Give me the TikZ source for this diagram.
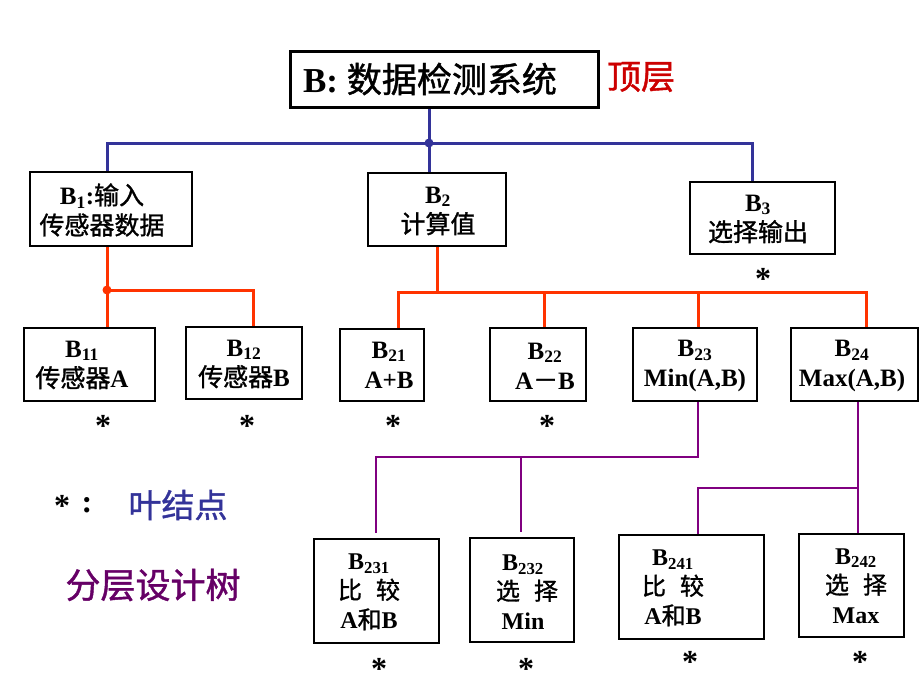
\documentclass[tikz,border=0pt]{standalone}
\usepackage{fontspec}
\setmainfont{Liberation Serif}
\newfontfamily\cjk[FakeBold=1.2]{Noto Sans CJK SC}
\newcommand\zhtxt[1]{{\cjk #1}}
\newcommand\bsub[2]{\textbf{#1\textsubscript{#2}}}
\definecolor{lineblue}{HTML}{333399}
\definecolor{linered}{HTML}{FF3300}
\definecolor{linepurple}{HTML}{800080}
\definecolor{topred}{HTML}{CC0000}
\definecolor{legpurple}{HTML}{660066}
\begin{document}
\begin{tikzpicture}[x=1pt,y=-1pt,
  box/.style={draw=black, line width=2pt, inner sep=0pt},
  txt/.style={font=\fontsize{25}{30}\selectfont, align=center, inner sep=0pt},
  txtc/.style={font=\fontsize{24}{29.5}\selectfont, align=center, inner sep=0pt},
  leafstar/.style={font=\fontsize{32}{32}\selectfont\bfseries, inner sep=0pt, yshift=-4pt},
  bl/.style={draw=lineblue, line width=3pt},
  rd/.style={draw=linered, line width=3pt},
  pu/.style={draw=linepurple, line width=2pt}]
\useasboundingbox (0,0) rectangle (920,690);

% ---------- boxes ----------
\node[box, line width=3pt, minimum width=308pt, minimum height=56pt] (B) at (444,80) {};
\node[box, minimum width=162pt, minimum height=74pt] (B1) at (111,209) {};
\node[box, minimum width=138pt, minimum height=73pt] (B2) at (437,209.5) {};
\node[box, minimum width=145pt, minimum height=72pt] (B3) at (762.5,218) {};
\node[box, minimum width=131pt, minimum height=73pt] (B11) at (89.5,364.5) {};
\node[box, minimum width=116pt, minimum height=72pt] (B12) at (244,363) {};
\node[box, minimum width=84pt, minimum height=72pt] (B21) at (382,365) {};
\node[box, minimum width=96pt, minimum height=73pt] (B22) at (538,364.5) {};
\node[box, minimum width=124pt, minimum height=73pt] (B23) at (695,364.5) {};
\node[box, minimum width=127pt, minimum height=73pt] (B24) at (854.5,364.5) {};
\node[box, minimum width=125pt, minimum height=104pt] (B231) at (376.5,591) {};
\node[box, minimum width=104pt, minimum height=104pt] (B232) at (522,590) {};
\node[box, minimum width=145pt, minimum height=104pt] (B241) at (691.5,587) {};
\node[box, minimum width=105pt, minimum height=103pt] (B242) at (851.5,585.5) {};

% ---------- texts ----------
\node[inner sep=0pt, font=\fontsize{35}{40}\selectfont] (tB) at (430,79) {\textbf{B:} \zhtxt{数据检测系统}};
\node[inner sep=0pt, font=\fontsize{34}{40}\selectfont, text=topred] (top) at (641,77) {\zhtxt{顶层}};
\node[txt] (tB1) at (102,210) {\bsub{B}{1}\textbf{:}\zhtxt{输入}\\\zhtxt{传感器数据}};
\node[txt] (tB2) at (438,211) {\bsub{B}{2}\\\zhtxt{计算值}};
\node[txt] (tB3) at (758,219) {\bsub{B}{3}\\\zhtxt{选择输出}};
\node[txt] (tB11) at (82,365) {\bsub{B}{11}\\\zhtxt{传感器}\textbf{A}};
\node[txt] (tB12) at (244,364) {\bsub{B}{12}\\\zhtxt{传感器}\textbf{B}};
\node[txt] (tB21) at (389,365) {\bsub{B}{21}\\\textbf{A+B}};
\node[txt] (tB22) at (545,366) {\bsub{B}{22}\\\textbf{A}\zhtxt{－}\textbf{B}};
\node[txt] (tB23) at (695,366) {\bsub{B}{23}\\\textbf{Min(A,B)}};
\node[txt] (tB24) at (852,366) {\bsub{B}{24}\\\textbf{Max(A,B)}};
\node[txtc] (tB231) at (369,592) {\bsub{B}{231}\\\zhtxt{比}\hspace{14pt}\zhtxt{较}\\\textbf{A}\zhtxt{和}\textbf{B}};
\node[txtc] (tB232) at (523,592) {\bsub{B}{232}\\\hspace{8pt}\zhtxt{选}\hspace{14pt}\zhtxt{择}\\\textbf{Min}\hspace{8pt}};
\node[txtc] (tB241) at (673,588) {\bsub{B}{241}\\\zhtxt{比}\hspace{14pt}\zhtxt{较}\\\textbf{A}\zhtxt{和}\textbf{B}};
\node[txtc] (tB242) at (856,586) {\bsub{B}{242}\\\zhtxt{选}\hspace{14pt}\zhtxt{择}\\\textbf{Max}\hspace{4pt}};

% ---------- leaf stars ----------
\node[leafstar] (s11) at (103,422) {*};
\node[leafstar] (s12) at (247,422) {*};
\node[leafstar] (s21) at (393,422) {*};
\node[leafstar] (s22) at (547,422) {*};
\node[leafstar] (s3) at (763,275) {*};
\node[leafstar] (s231) at (379,665) {*};
\node[leafstar] (s232) at (526,665) {*};
\node[leafstar] (s241) at (690,658) {*};
\node[leafstar] (s242) at (860,658) {*};

% ---------- legend ----------
\node[leafstar] (lstar) at (62,502) {*};
\node[inner sep=0pt, font=\fontsize{32}{32}\selectfont\bfseries] (lcolon) at (87,505) {:};
\node[inner sep=0pt, font=\fontsize{33}{36}\selectfont, text=lineblue] (leaf) at (178,505) {\zhtxt{叶结点}};
\node[inner sep=0pt, font=\fontsize{35}{38}\selectfont, text=legpurple] (tree) at (153,585) {\zhtxt{分层设计树}};

% ---------- blue connectors ----------
\coordinate (jB) at (429,143);
\coordinate (jL) at (107,143);
\coordinate (jR) at (752,143);
\draw[bl] (jB |- B.south) -- (jB) -- (jB |- B2.north);
\draw[bl] (jL |- B1.north) -- (jL) -- (jR) -- (jR |- B3.north);
\fill[lineblue] (jB) circle (4.5);

% ---------- red connectors ----------
\coordinate (r1) at (107,290);
\coordinate (r1e) at (253,290);
\draw[rd] (r1 |- B1.south) -- (r1) -- (r1 |- B11.north);
\draw[rd] (r1) -- (r1e) -- (r1e |- B12.north);
\fill[linered] (r1) circle (4.5);
\coordinate (r2) at (437,292);
\coordinate (r2a) at (398,292);
\coordinate (r2b) at (544,292);
\coordinate (r2c) at (698,292);
\coordinate (r2d) at (866,292);
\draw[rd] (r2 |- B2.south) -- (r2);
\draw[rd] (r2a |- B21.north) -- (r2a) -- (r2d) -- (r2d |- B24.north);
\draw[rd] (r2b) -- (r2b |- B22.north);
\draw[rd] (r2c) -- (r2c |- B23.north);

% ---------- purple connectors ----------
\coordinate (p1) at (698,457);
\coordinate (p1a) at (376,457);
\coordinate (p1b) at (521,457);
\draw[pu, shorten >=5pt] (p1 |- B23.south) -- (p1) -- (p1a) -- (p1a |- B231.north);
\draw[pu, shorten >=5pt] (p1b) -- (p1b |- B232.north);
\coordinate (p2) at (858,488);
\coordinate (p2a) at (698,488);
\draw[pu] (p2 |- B24.south) -- (p2 |- B242.north);
\draw[pu] (p2) -- (p2a) -- (p2a |- B241.north);
\end{tikzpicture}
\end{document}
